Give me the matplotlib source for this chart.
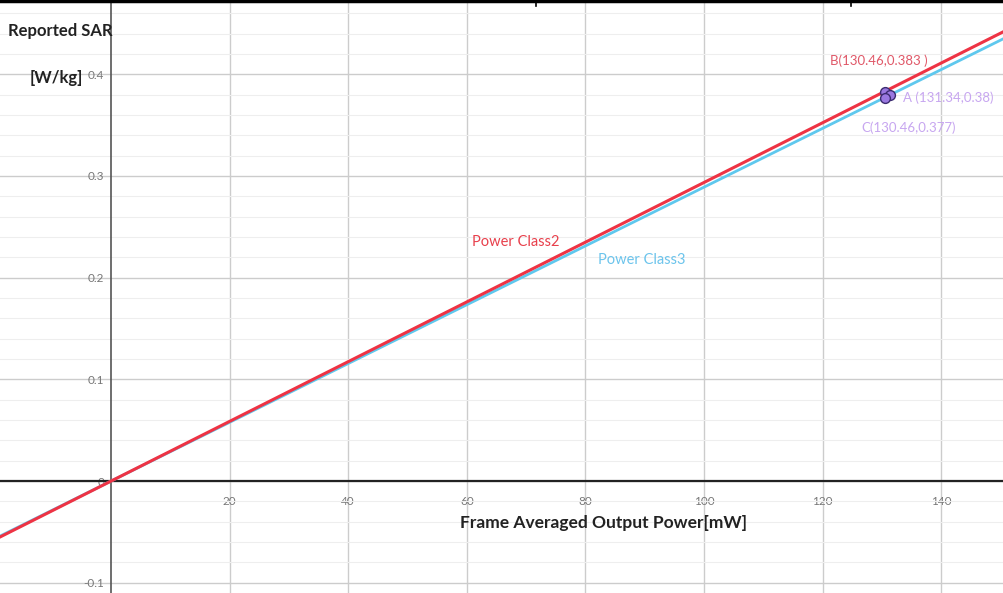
import matplotlib.pyplot as plt
from matplotlib.lines import Line2D
from matplotlib.ticker import MultipleLocator, FixedLocator

# power [mW] vs reported SAR [W/kg]
power = [-18.7, 0, 130.46, 150.6]
sarClass2 = [-0.0549, 0, 0.383, 0.4421]
sarClass3 = [-0.0540, 0, 0.377, 0.4352]

pointNames = ['B', 'A', 'C']
pointX = [130.46, 131.34, 130.46]
pointY = [0.383, 0.38, 0.377]

xTicks = [20, 40, 60, 80, 100, 120, 140]
yTicks = [-0.1, 0, 0.1, 0.2, 0.3, 0.4]
yTickLabels = ['-0.1', '0', '0.1', '0.2', '0.3', '0.4']

narrow = ['Lato', 'DejaVu Sans']

fig = plt.figure(figsize=(10.04, 5.93), dpi=100)
ax = fig.add_axes([0, 0, 1, 1])
ax.set_xlim(-18.72, 150.6)
ax.set_ylim(-0.110, 0.473)

# axes through the origin
for side in ['top', 'right']:
    ax.spines[side].set_visible(False)
ax.spines['left'].set_position(('data', 0))
ax.spines['bottom'].set_position(('data', 0))
ax.spines['left'].set_color('#555555')
ax.spines['left'].set_linewidth(1.2)
ax.spines['bottom'].set_color('#222222')
ax.spines['bottom'].set_linewidth(1.6)
ax.spines['left'].set_zorder(1)

ax.xaxis.set_major_locator(FixedLocator(xTicks))
ax.yaxis.set_major_locator(FixedLocator(yTicks))
ax.set_yticklabels(yTickLabels)
ax.yaxis.set_minor_locator(MultipleLocator(0.02))
ax.tick_params(axis='both', which='both', length=0, labelsize=8.5, labelcolor='#777777')
ax.tick_params(axis='x', pad=11)
ax.tick_params(axis='y', pad=5)
for lbl in ax.get_xticklabels() + ax.get_yticklabels():
    lbl.set_family(narrow)

ax.grid(True, which='major', color='#cccccc', linewidth=1.0)
ax.grid(True, which='minor', axis='y', color='#eeeeee', linewidth=0.8)
ax.set_axisbelow(True)

ax.plot(power, sarClass3, color='#5ec8ee', linewidth=2.0, zorder=3)
ax.plot(power, sarClass2, color='#ee3344', linewidth=2.2, zorder=4)

ax.scatter(pointX, pointY, s=50, color='#9a78e0', edgecolors='#3c2c70',
           linewidths=1.0, zorder=5)

ax.text(68.2, 0.235, 'Power Class2', color='#e8404c', fontsize=10.5,
        family=narrow, ha='center', va='center')
ax.text(89.5, 0.217, 'Power Class3', color='#6cc4ec', fontsize=10.5,
        family=narrow, ha='center', va='center')

ax.text(121.3, 0.413, 'B(130.46,0.383 )', color='#e05868', fontsize=9.5,
        family=narrow, ha='left', va='center')
ax.text(133.5, 0.377, 'A (131.34,0.38)', color='#c7a6f0', fontsize=9.5,
        family=narrow, ha='left', va='center')
ax.text(126.5, 0.347, 'C(130.46,0.377)', color='#c7a6f0', fontsize=9.5,
        family=narrow, ha='left', va='center')

fig.text(0.06, 0.948, 'Reported SAR', fontsize=12, fontweight='bold',
         color='#222222', family=narrow, ha='center', va='center')
fig.text(0.056, 0.868, '[W/kg]', fontsize=12, fontweight='bold',
         color='#222222', family=narrow, ha='center', va='center')
fig.text(0.601, 0.118, 'Frame Averaged Output Power[mW]', fontsize=12.5,
         fontweight='bold', color='#222222', family=narrow,
         ha='center', va='center')

# border left over from the screenshot
fig.add_artist(Line2D([0, 1], [0.998, 0.998], color='black', linewidth=2.5))
fig.add_artist(Line2D([0.534, 0.534], [0.99, 1], color='black', linewidth=1.2))
fig.add_artist(Line2D([0.848, 0.848], [0.99, 1], color='black', linewidth=1.2))

fig.savefig('out.png', dpi=100)
